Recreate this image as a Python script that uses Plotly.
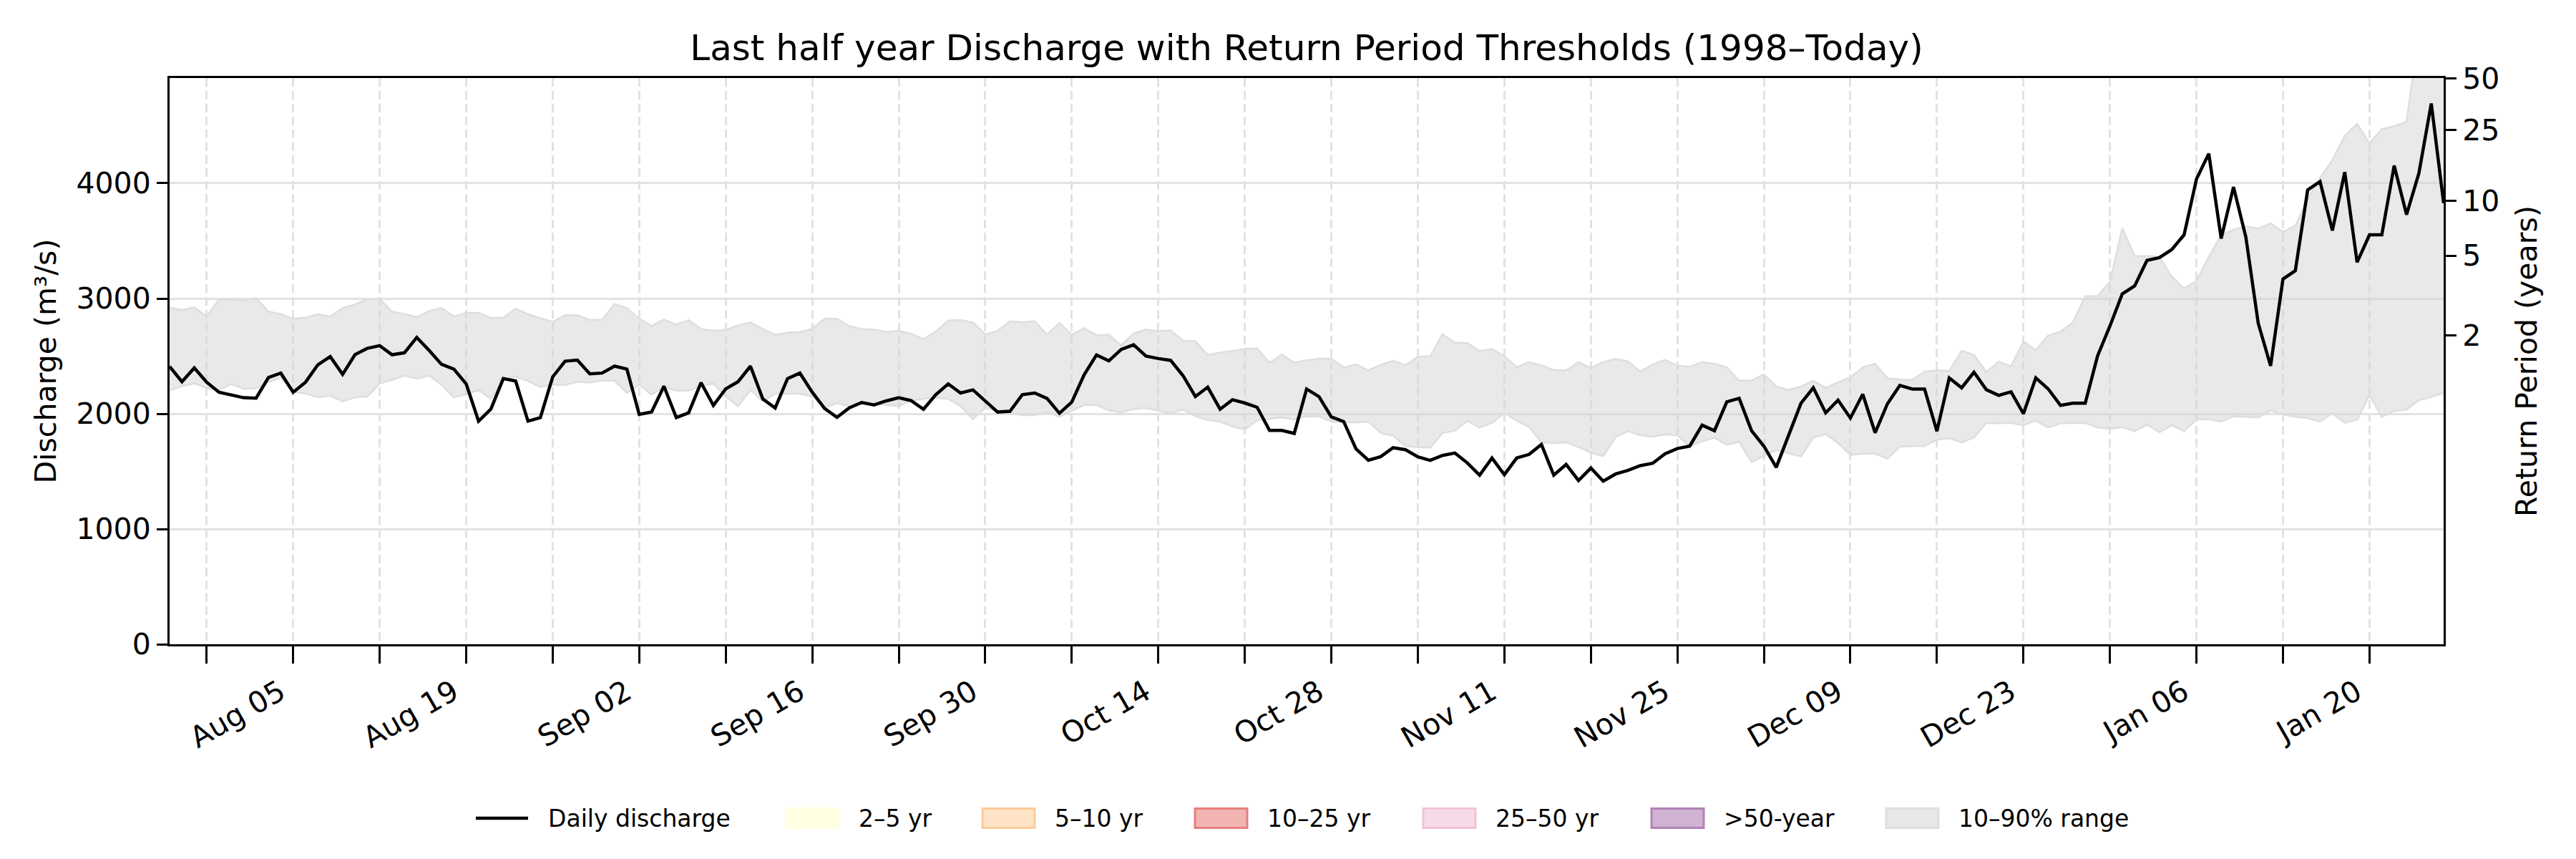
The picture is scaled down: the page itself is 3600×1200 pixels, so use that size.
import pandas as pd
import plotly.graph_objects as go

# daily index for the last half year
dates = pd.date_range("2024-07-26", "2025-01-26", freq="D")

# daily discharge (m3/s)
discharge = [
    # Jul 26-31
    2410, 2278, 2398, 2274, 2187, 2166,
    # Aug
    2139, 2135, 2315, 2353, 2187, 2274, 2425, 2496, 2342, 2512,
    2568, 2591, 2512, 2529, 2662, 2550, 2429, 2388, 2259, 1936,
    2041, 2305, 2284, 1936, 1967, 2320, 2456, 2465, 2346, 2353, 2413,
    # Sep
    2388, 1994, 2015, 2239, 1967, 2008, 2270, 2073, 2216, 2278,
    2413, 2129, 2050, 2305, 2353, 2187, 2046, 1969, 2052, 2098,
    2077, 2112, 2139, 2114, 2039, 2166, 2259, 2180, 2207, 2114,
    # Oct
    2015, 2021, 2166, 2180, 2133, 2004, 2102, 2338, 2510, 2459,
    2558, 2599, 2500, 2479, 2463, 2331, 2149, 2231, 2039, 2122,
    2093, 2056, 1855, 1855, 1829, 2215, 2149, 1973, 1932, 1694, 1597,
    # Nov
    1628, 1705, 1688, 1626, 1595, 1638, 1659, 1574, 1467, 1616,
    1471, 1616, 1647, 1733, 1467, 1560, 1421, 1529, 1415, 1477,
    1508, 1550, 1570, 1653, 1698, 1719, 1901, 1853, 2103, 2134,
    # Dec
    1853, 1719, 1535, 1822, 2091, 2225, 2008, 2118, 1963, 2169,
    1835, 2087, 2246, 2215, 2215, 1849, 2310, 2225, 2360, 2209,
    2159, 2190, 2000, 2311, 2216, 2073, 2091, 2091, 2502, 2761, 3040,
    # Jan 1-26
    3109, 3331, 3355, 3424, 3552, 4035, 4257, 3521, 3967, 3532,
    2785, 2415, 3169, 3241, 3942, 4015, 3590, 4097, 3314, 3552,
    3552, 4153, 3728, 4087, 4692, 3828,
]

# climatological 10th percentile for each day
p10 = [
    2201, 2240, 2263, 2222, 2205, 2257,
    2216, 2222, 2274, 2315, 2191, 2176, 2143, 2156, 2108, 2143,
    2149, 2263, 2295, 2330, 2305, 2330, 2253, 2143, 2170, 2207,
    2129, 2295, 2322, 2284, 2232, 2253, 2249, 2278, 2270, 2288, 2288,
    2180, 2253, 2166, 2232, 2201, 2201, 2243, 2263, 2149, 2066,
    2207, 2108, 2174, 2174, 2174, 2149, 2056, 2091, 2066, 2087,
    2087, 2077, 2066, 2114, 2129, 2139, 2129, 2066, 1952, 2050,
    2025, 2004, 1988, 1988, 2015, 1973, 2025, 2076, 2076, 2029,
    2010, 2041, 2050, 2029, 2004, 2035, 1979, 1946, 1932, 1890,
    1864, 1942, 1957, 1967, 1952, 1977, 1977, 1932, 1926, 1926, 1932,
    1833, 1808, 1719, 1709, 1705, 1833, 1853, 1938, 1880, 1921,
    2008, 1938, 1886, 1753, 1746, 1752, 1711, 1663, 1632, 1798,
    1849, 1814, 1802, 1822, 1814, 1719, 1760, 1793, 1731, 1756,
    1581, 1632, 1684, 1657, 1628, 1793, 1824, 1746, 1643, 1653,
    1653, 1612, 1715, 1719, 1719, 1777, 1787, 1752, 1793, 1919,
    1917, 1921, 1900, 1942, 1880, 1917, 1921, 1921, 1880, 1869, 1884,
    1849, 1905, 1838, 1900, 1849, 1952, 1952, 1932, 1977, 1973,
    1967, 2029, 1994, 1973, 1963, 1932, 2004, 1921, 1946, 2160,
    1973, 2025, 2035, 2118, 2145, 2180,
]

# climatological 90th percentile for each day
p90 = [
    2921, 2900, 2923, 2844, 2990, 2990,
    2985, 3004, 2886, 2865, 2824, 2834, 2865, 2844, 2917, 2948,
    2996, 2996, 2886, 2865, 2838, 2892, 2917, 2844, 2876, 2876,
    2830, 2834, 2911, 2865, 2830, 2797, 2855, 2855, 2813, 2817, 2952,
    2917, 2824, 2761, 2817, 2772, 2813, 2734, 2720, 2726, 2768,
    2793, 2734, 2685, 2703, 2710, 2737, 2824, 2824, 2761, 2734,
    2730, 2710, 2720, 2693, 2647, 2714, 2807, 2813, 2793, 2689,
    2720, 2803, 2793, 2803, 2685, 2788, 2685, 2742, 2682, 2686,
    2593, 2696, 2731, 2717, 2723, 2634, 2630, 2510, 2531, 2545,
    2562, 2568, 2442, 2514, 2442, 2465, 2479, 2479, 2401, 2428, 2376,
    2424, 2459, 2421, 2494, 2500, 2690, 2618, 2614, 2545, 2562,
    2500, 2403, 2448, 2420, 2380, 2376, 2448, 2397, 2448, 2475,
    2455, 2366, 2428, 2469, 2417, 2407, 2448, 2434, 2403, 2287,
    2289, 2341, 2236, 2207, 2236, 2287, 2225, 2273, 2314, 2403,
    2434, 2308, 2298, 2293, 2366, 2376, 2372, 2545, 2510, 2360,
    2452, 2412, 2626, 2553, 2678, 2713, 2792, 3020, 3020, 3144, 3610,
    3368, 3368, 3362, 3190, 3086, 3154, 3362, 3548, 3596, 3625,
    3606, 3652, 3579, 3631, 3859, 4046, 4201, 4412, 4516, 4346,
    4470, 4495, 4537, 5300, 5400, 5500,
]

# return period thresholds (discharge levels for the right axis)
rp_years = [2, 5, 10, 25, 50]
rp_discharge = [2678, 3372, 3849, 4460, 4910]

band_names = ["2–5 yr", "5–10 yr", "10–25 yr", "25–50 yr", ">50-year"]
band_fill = ["rgb(255,255,228)", "rgb(253,226,197)", "rgb(241,180,178)",
             "rgb(246,218,231)", "rgb(208,178,210)"]
band_edge = ["rgb(255,255,222)", "rgb(253,203,155)", "rgb(230,128,125)",
             "rgb(240,195,215)", "rgb(178,130,182)"]

FONT = "DejaVu Sans"
GRID = "rgb(226,226,226)"
y_max = 4913

# page geometry in px (browser adds 8px body margin)
PAGE_PAD = 8
PLOT_L, PLOT_R, PLOT_T, PLOT_B = 237, 3415, 109, 900


def px_x(px):
    return (px - PLOT_L) / (PLOT_R - PLOT_L)


def px_y(py):
    return (PLOT_B - py) / (PLOT_B - PLOT_T)


fig = go.Figure()

# 10-90% range band
fig.add_trace(go.Scatter(
    x=dates, y=p10, mode="lines",
    line=dict(color="rgb(222,222,222)", width=2.5),
    showlegend=False, hoverinfo="skip",
))
fig.add_trace(go.Scatter(
    x=dates, y=p90, mode="lines", fill="tonexty",
    fillcolor="rgba(211,211,211,0.5)",
    line=dict(color="rgb(222,222,222)", width=2.5),
    name="10–90% range", showlegend=False,
))

# return period classes (nothing to draw in this window, kept on the right axis)
for i, name in enumerate(band_names):
    fig.add_trace(go.Scatter(
        x=[None], y=[None], mode="lines", fill="toself",
        fillcolor=band_fill[i], line=dict(color=band_edge[i], width=2),
        name=name, showlegend=False, yaxis="y2",
    ))

fig.add_trace(go.Scatter(
    x=dates, y=discharge, mode="lines",
    line=dict(color="black", width=4.5),
    name="Daily discharge", showlegend=False,
))

# legend drawn below the axes, matplotlib style
legend_labels = ["Daily discharge"] + band_names + ["10–90% range"]
legend_fill = [None] + band_fill + ["rgb(232,232,232)"]
legend_edge = ["black"] + band_edge + ["rgb(222,222,222)"]
legend_left = [665, 1099, 1373, 1670, 1989, 2308, 2636]
key_w, key_h, legend_cy = 73, 27, 1143

shapes = []
annotations = []
for i, label in enumerate(legend_labels):
    x0 = legend_left[i]
    if legend_fill[i] is None:
        shapes.append(dict(
            type="line", xref="paper", yref="paper",
            x0=px_x(x0), x1=px_x(x0 + key_w),
            y0=px_y(legend_cy), y1=px_y(legend_cy),
            line=dict(color=legend_edge[i], width=4.5),
        ))
    else:
        shapes.append(dict(
            type="rect", xref="paper", yref="paper",
            x0=px_x(x0), x1=px_x(x0 + key_w),
            y0=px_y(legend_cy + key_h / 2), y1=px_y(legend_cy - key_h / 2),
            fillcolor=legend_fill[i], line=dict(color=legend_edge[i], width=3),
        ))
    annotations.append(dict(
        text=label, xref="paper", yref="paper",
        x=px_x(x0 + key_w + 26), y=px_y(legend_cy),
        xanchor="left", yanchor="middle", showarrow=False,
        font=dict(family=FONT, size=33, color="black"),
    ))

fig.update_layout(
    width=3600, height=1200,
    paper_bgcolor="white", plot_bgcolor="white",
    font=dict(family=FONT, size=41, color="black"),
    margin=dict(l=PLOT_L - PAGE_PAD, r=3600 - PLOT_R + PAGE_PAD,
                t=PLOT_T - PAGE_PAD, b=1200 - PLOT_B + PAGE_PAD),
    title=dict(
        text="Last half year Discharge with Return Period Thresholds (1998–Today)",
        font=dict(family=FONT, size=50, color="black"),
        x=0.5, xref="paper", xanchor="center",
        y=1 - (66 - PAGE_PAD) / 1200, yref="container", yanchor="middle",
    ),
    showlegend=False,
    shapes=shapes,
    annotations=annotations,
    xaxis=dict(
        type="date", range=[dates[0], dates[-1]],
        tickformat="%b %d", tick0="2024-08-05", dtick=14 * 86400000,
        tickangle=-30, ticks="outside", ticklen=24, tickwidth=3,
        tickcolor="black", tickfont=dict(size=41),
        ticklabelshift=-18,
        showgrid=True, gridcolor=GRID, gridwidth=2.5, griddash="12px,6px",
        minor=dict(tick0="2024-07-29", dtick=7 * 86400000, ticks="outside",
                   ticklen=24, tickwidth=3, tickcolor="black",
                   showgrid=True, gridcolor=GRID, gridwidth=2.5,
                   griddash="12px,6px"),
        showline=True, linecolor="black", linewidth=3, mirror=True,
        zeroline=False, automargin=False,
    ),
    yaxis=dict(
        range=[0, y_max], dtick=1000, ticks="outside", ticklen=15,
        tickwidth=3, tickcolor="black", tickfont=dict(size=41),
        showgrid=True, gridcolor=GRID, gridwidth=2.5, zeroline=False,
        showline=True, linecolor="black", linewidth=3, mirror=True,
        title=dict(text="Discharge (m³/s)", font=dict(size=41), standoff=16),
        automargin=False,
    ),
    yaxis2=dict(
        overlaying="y", side="right", range=[0, y_max],
        tickvals=rp_discharge, ticktext=[str(v) for v in rp_years],
        ticks="outside", ticklen=15, tickwidth=3, tickcolor="black",
        tickfont=dict(size=41), showgrid=False, zeroline=False,
        showline=True, linecolor="black", linewidth=3,
        title=dict(text="Return Period (years)", font=dict(size=41), standoff=24),
        automargin=False,
    ),
)

fig.write_html("out.html")
